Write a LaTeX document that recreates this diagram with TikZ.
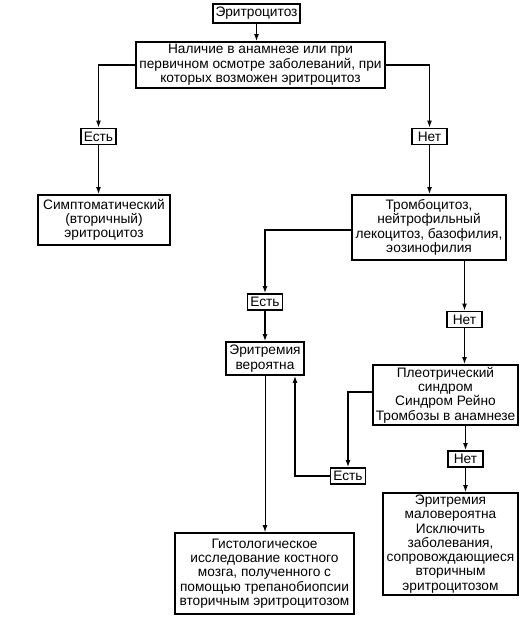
\documentclass[tikz,border=0pt]{standalone}
\usepackage{fontspec}
\setmainfont{Liberation Sans}
\usepackage{tikz}
\usetikzlibrary{calc,arrows.meta}

\begin{document}
\begin{tikzpicture}[x=1pt,y=-1pt,
  blok/.style={draw,line width=1.8pt,align=center,inner sep=0pt,
    font=\fontsize{13.7}{14.3}\selectfont},
  otvet/.style={blok,minimum width=35pt,minimum height=16pt},
  strel/.style={line width=1.5pt,-{Latex[length=7pt,width=5pt]}}]
\useasboundingbox (0,0) rectangle (530,618);
%% boxes
\node[blok,minimum width=87pt,minimum height=19pt] (start) at (256.5,13.5) {Эритроцитоз};
\node[blok,minimum width=249pt,minimum height=46pt] (anam) at (260.5,65)
  {Наличие в анамнезе или при\\первичном осмотре заболеваний, при\\которых возможен эритроцитоз};
\node[blok,minimum width=132pt,minimum height=50pt] (symp) at (104,220)
  {Симптоматический\\(вторичный)\\эритроцитоз};
\node[blok,minimum width=154pt,minimum height=65pt] (tromb) at (429,227.5)
  {Тромбоцитоз,\\нейтрофильный\\лекоцитоз, базофилия,\\эозинофилия};
\node[blok,minimum width=78pt,minimum height=33pt] (erit) at (265,358.5)
  {Эритремия\\вероятна};
\node[blok,minimum width=145pt,minimum height=60pt] (pleo) at (445.5,395)
  {Плеотрический\\синдром\\Синдром Рейно\\Тромбозы в анамнезе};
\node[blok,minimum width=179pt,minimum height=81pt] (hist) at (264.5,573.5)
  {Гистологическое\\исследование костного\\мозга, полученного с\\помощью трепанобиопсии\\вторичным эритроцитозом};
\node[blok,minimum width=135pt,minimum height=102pt] (unlik) at (450.5,544)
  {Эритремия\\маловероятна\\Исключить\\заболевания,\\сопровождающиеся\\вторичным\\эритроцитозом};
%% answers
\node[otvet] (yes1) at (98.5,136.5) {Есть};
\node[otvet] (no1) at (429.5,136.5) {Нет};
\node[otvet] (yes2) at (265,302) {Есть};
\node[otvet] (no2) at (464.5,319.5) {Нет};
\node[otvet] (yes3) at (348,476) {Есть};
\node[otvet] (no3) at (465.5,459) {Нет};
%% connectors
\draw[strel] (start) -- (start |- anam.north);
\draw[strel] (anam.west) -| (yes1.north);
\draw[strel] (anam.east) -| (no1.north);
\draw[strel] (yes1) -- (yes1 |- symp.north);
\draw[strel] (no1) -- (no1 |- tromb.north);
\draw[strel] ([yshift=-2.5pt]tromb.west) -| (yes2.north);
\draw[strel] (yes2) -- (yes2 |- erit.north);
\draw[strel] (no2 |- tromb.south) -- (no2.north);
\draw[strel] (no2) -- (no2 |- pleo.north);
\draw[strel] ([yshift=3pt]pleo.west) -| (yes3.north);
\draw[strel] (yes3.west) -| ([xshift=30pt]erit.south);
\draw[strel,line width=1pt] (erit) -- (erit |- hist.north);
\draw[strel] (no3 |- pleo.south) -- (no3.north);
\draw[strel] (no3) -- (no3 |- unlik.north);
\end{tikzpicture}
\end{document}
